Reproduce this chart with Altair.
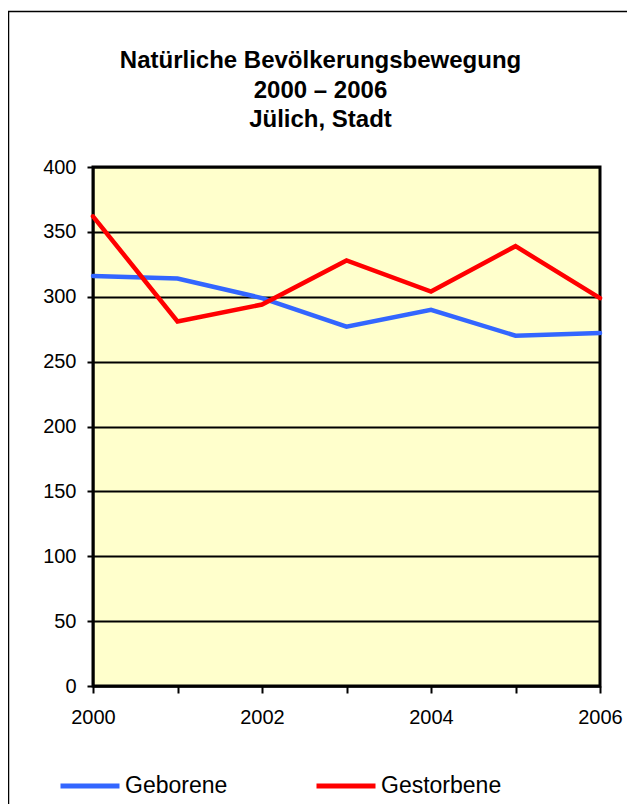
import altair as alt
import pandas as pd

years = [2000, 2001, 2002, 2003, 2004, 2005, 2006]
geborene = [316, 314, 299, 277, 290, 270, 272]
gestorbene = [362, 281, 294, 328, 304, 339, 299]
series_names = ["Geborene", "Gestorbene"]
series_colors = ["#3366FF", "#FF0000"]
title_lines = ["Natürliche Bevölkerungsbewegung", "2000 – 2006", "Jülich, Stadt"]
y_ticks = [0, 50, 100, 150, 200, 250, 300, 350, 400]

rows = []
for y, g, s in zip(years, geborene, gestorbene):
    rows.append({"Jahr": y, "Serie": series_names[0], "Wert": g})
    rows.append({"Jahr": y, "Serie": series_names[1], "Wert": s})
df = pd.DataFrame(rows)

FONT = "Liberation Sans"
W, H = 507, 519
one = pd.DataFrame({"k": [0]})

frame = alt.Chart(one).mark_rect(
    filled=False, stroke="black", strokeWidth=1.5
).encode(
    x=alt.value(-84.5), x2=alt.value(W + 120),
    y=alt.value(-155.5), y2=alt.value(H + 200),
)

title = alt.Chart(one).mark_text(
    text=title_lines, font=FONT, fontSize=24, fontWeight="bold", color="black",
    align="center", baseline="alphabetic", lineHeight=29.5,
).encode(x=alt.value(227.5), y=alt.value(-99))

lines = alt.Chart(df).mark_line(strokeWidth=4.5, strokeCap="round", strokeJoin="miter").encode(
    x=alt.X("Jahr:Q",
            scale=alt.Scale(domain=[2000, 2006], nice=False, zero=False),
            axis=alt.Axis(values=years, format="d", title=None,
                          labelExpr="datum.value % 2 == 0 ? datum.label : ''",
                          labelFlush=False, labelOverlap=False,
                          tickSize=7, labelPadding=14, grid=False)),
    y=alt.Y("Wert:Q",
            scale=alt.Scale(domain=[0, 400], nice=False),
            axis=alt.Axis(values=y_ticks, title=None, tickSize=6, labelPadding=11,
                          grid=True, gridColor="black", gridWidth=2)),
    color=alt.Color("Serie:N",
                    scale=alt.Scale(domain=series_names, range=series_colors),
                    legend=alt.Legend(title=None, orient="none", legendX=-35, legendY=587,
                                      direction="horizontal", symbolType="stroke",
                                      symbolSize=3481, symbolStrokeWidth=5,
                                      labelFontSize=23, labelFont=FONT, labelColor="black",
                                      labelOffset=3, columnPadding=78, padding=0)),
    order="Jahr:Q",
)

chart = alt.layer(frame, title, lines).properties(
    width=W, height=H,
    autosize=alt.AutoSizeParams(type="none"),
    padding={"left": 85, "top": 159, "right": 27, "bottom": 118},
).configure_view(
    fill="#FFFFCC", stroke="black", strokeWidth=3
).configure_axis(
    labelFont=FONT, labelFontSize=20, labelColor="black",
    domainColor="black", domainWidth=2, tickColor="black", tickWidth=2,
)

chart.save("out.html", embed_options={"renderer": "svg", "actions": False})
